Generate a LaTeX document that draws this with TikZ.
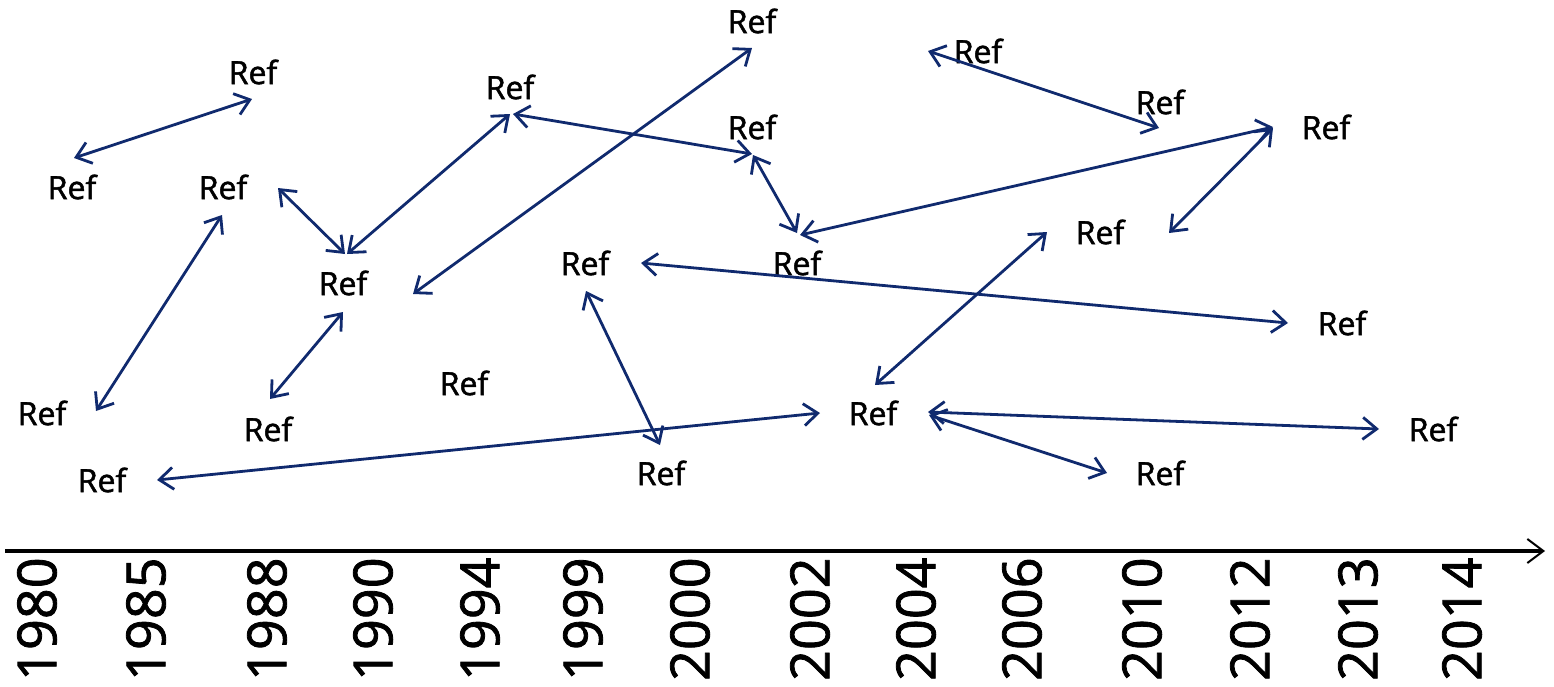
\documentclass[tikz,border=0pt]{standalone}
\usepackage{fontspec}
\setmainfont{Open Sans}[FakeBold=1.5]
\usetikzlibrary{arrows.meta}
\definecolor{navy}{RGB}{16,42,110}
\tikzset{
  refnode/.style={inner sep=0pt, font=\fontsize{16}{18}\selectfont},
  yearnode/.style={inner sep=0pt, rotate=90, anchor=east, font=\fontsize{27}{30}\selectfont},
  conn/.style={draw=navy, line width=1.4pt, {Straight Barb[length=7pt,width=11pt,line width=1.4pt]}-{Straight Barb[length=7pt,width=11pt,line width=1.4pt]}},
  axisline/.style={draw=black, line width=1.6pt, -{Straight Barb[length=8pt,width=12pt,line width=1pt]}}
}
\begin{document}
\begin{tikzpicture}[x=0.5pt,y=-0.5pt]
\useasboundingbox (0,0) rectangle (1554,686);
% nodes
\node[refnode] (A) at (253,72) {Ref};
\node[refnode] (B) at (72,187) {Ref};
\node[refnode] (C) at (223,187) {Ref};
\node[refnode] (D) at (343,283) {Ref};
\node[refnode] (E) at (42,413) {Ref};
\node[refnode] (F) at (268,429) {Ref};
\node[refnode] (G) at (102,480) {Ref};
\node[refnode] (H) at (464,383) {Ref};
\node[refnode] (I) at (510,87) {Ref};
\node[refnode] (J) at (752,21) {Ref};
\node[refnode] (K) at (978,51) {Ref};
\node[refnode] (L) at (752,127) {Ref};
\node[refnode] (M) at (1160,102) {Ref};
\node[refnode] (N) at (1326,127) {Ref};
\node[refnode] (O) at (797,263) {Ref};
\node[refnode] (P) at (585,263) {Ref};
\node[refnode] (Q) at (1100,232) {Ref};
\node[refnode] (R) at (1342,323) {Ref};
\node[refnode] (S) at (873,413) {Ref};
\node[refnode] (T) at (661,473) {Ref};
\node[refnode] (U) at (1433,429) {Ref};
\node[refnode] (V) at (1160,473) {Ref};
% connectors
\draw[conn] ([shift={(2,-29)}]B.center) -- ([shift={(-1,27)}]A.center);
\draw[conn] ([shift={(54,-2)}]E.center) -- ([shift={(-1,28)}]C.center);
\draw[conn] ([shift={(55,1)}]C.center) -- ([shift={(2,-29)}]D.center);
\draw[conn] ([shift={(4,-29)}]D.center) -- ([shift={(0,27)}]I.center);
\draw[conn] ([shift={(2,-30)}]F.center) -- ([shift={(0,29)}]D.center);
\draw[conn] ([shift={(70,11)}]D.center) -- ([shift={(0,27)}]J.center);
\draw[conn] ([shift={(3,27)}]I.center) -- ([shift={(0,27)}]L.center);
\draw[conn] ([shift={(1,28)}]L.center) -- ([shift={(0,-30)}]O.center);
\draw[conn] ([shift={(3,-28)}]O.center) -- ([shift={(-53,0)}]N.center);
\draw[conn] ([shift={(-50,0)}]K.center) -- ([shift={(-1,26)}]M.center);
\draw[conn] ([shift={(-53,1)}]N.center) -- ([shift={(69,1)}]Q.center);
\draw[conn] ([shift={(56,0)}]P.center) -- ([shift={(-54,0)}]R.center);
\draw[conn] ([shift={(1,28)}]P.center) -- ([shift={(-1,-28)}]T.center);
\draw[conn] ([shift={(2,-28)}]S.center) -- ([shift={(-53,0)}]Q.center);
\draw[conn] ([shift={(55,0)}]G.center) -- ([shift={(-53,0)}]S.center);
\draw[conn] ([shift={(55,-1)}]S.center) -- ([shift={(-54,0)}]U.center);
\draw[conn] ([shift={(56,2)}]S.center) -- ([shift={(-53,0)}]V.center);
% axis
\coordinate (ax0) at (5,551);
\coordinate (ax1) at (1545,551);
\draw[axisline] (ax0) -- (ax1);
% years
\node[yearnode] (y1980) at (37,557) {1980};
\node[yearnode] (y1985) at (146,557) {1985};
\node[yearnode] (y1988) at (267,557) {1988};
\node[yearnode] (y1990) at (373,557) {1990};
\node[yearnode] (y1994) at (480,557) {1994};
\node[yearnode] (y1999) at (583,557) {1999};
\node[yearnode] (y2000) at (690,557) {2000};
\node[yearnode] (y2002) at (810,557) {2002};
\node[yearnode] (y2004) at (916,557) {2004};
\node[yearnode] (y2006) at (1022,557) {2006};
\node[yearnode] (y2010) at (1142,557) {2010};
\node[yearnode] (y2012) at (1250,557) {2012};
\node[yearnode] (y2013) at (1358,557) {2013};
\node[yearnode] (y2014) at (1462,557) {2014};
\end{tikzpicture}
\end{document}
